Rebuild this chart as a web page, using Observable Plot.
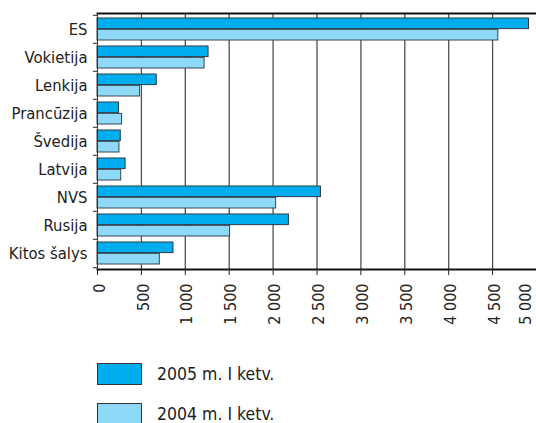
<!DOCTYPE html>
<html>
<head>
<meta charset="utf-8">
<script src="https://cdn.jsdelivr.net/npm/d3@7"></script>
<script src="https://cdn.jsdelivr.net/npm/@observablehq/plot@0.6"></script>
<style>
  html, body { margin: 0; padding: 0; background: #fff; }
  body { width: 536px; height: 423px; overflow: hidden; font-family: "Liberation Sans Narrow", "DejaVu Sans Condensed", "Roboto Condensed", "Arial Narrow", sans-serif; color: #222; }
  #legend { margin-top: 22px; margin-left: 97px; }
  .item { display: flex; align-items: center; height: 23px; margin-bottom: 17px; }
  .sw { width: 43px; height: 20px; border: 1.5px solid #333; box-sizing: content-box; }
  .lab { margin-left: 15px; font-size: 17.5px; }
</style>
</head>
<body>
<div id="chart"></div>
<div id="legend"></div>
<script>
const countries = ["ES", "Vokietija", "Lenkija", "Prancūzija", "Švedija", "Latvija", "NVS", "Rusija", "Kitos šalys"];
const values2005 = [4915, 1265, 675, 245, 265, 320, 2545, 2180, 865];
const values2004 = [4565, 1220, 485, 280, 250, 270, 2035, 1510, 710];
const seriesLabels = ["2005 m. I ketv.", "2004 m. I ketv."];
const seriesColors = ["#00aeef", "#8ed8f8"];
const xTicks = [0, 500, 1000, 1500, 2000, 2500, 3000, 3500, 4000, 4500, 5000];

const W = 536, H = 340, mTop = 13, mBottom = 71;
const padIn = 0.2, padOut = 0.1;
const step = (H - mTop - mBottom) / (countries.length - padIn + 2 * padOut);
const bw = step * (1 - padIn);
const fmt = d => d3.format(",")(d).replace(/,/g, " ");
const font = '"Liberation Sans Narrow", "DejaVu Sans Condensed", "Roboto Condensed", "Arial Narrow", sans-serif';

const chart = Plot.plot({
  width: W, height: H,
  marginTop: mTop, marginBottom: mBottom, marginLeft: 97, marginRight: 0,
  style: { fontFamily: font, fontSize: "16px", color: "#222", background: "white" },
  x: { domain: [0, 5000] },
  y: { domain: countries, paddingInner: padIn, paddingOuter: padOut },
  marks: [
    Plot.ruleX(xTicks.slice(1, -1), { stroke: "#505050", strokeWidth: 1.3 }),
    Plot.barX(countries, { y: d => d, x: (d, i) => values2005[i], fill: seriesColors[0], stroke: "#2b3a44", strokeWidth: 1, insetBottom: bw / 2 }),
    Plot.barX(countries, { y: d => d, x: (d, i) => values2004[i], fill: seriesColors[1], stroke: "#3a4650", strokeWidth: 1, insetTop: bw / 2 }),
    Plot.frame({ anchor: "top", stroke: "#111", strokeWidth: 2 }),
    Plot.frame({ anchor: "bottom", stroke: "#111", strokeWidth: 2 }),
    Plot.frame({ anchor: "left", stroke: "#333", strokeWidth: 1 }),
    Plot.axisX({ ticks: xTicks.slice(0, -1), tickSize: 6, text: null, stroke: "#222" }),
    Plot.axisX({ ticks: xTicks.slice(0, -1), tickSize: 6, tickPadding: 8, tickRotate: -90, tickFormat: fmt, fontSize: 16, dx: 2, label: null, stroke: "none" }),
    Plot.axisX({ ticks: xTicks.slice(-1), tickSize: 6, tickPadding: 8, tickRotate: -90, tickFormat: fmt, fontSize: 16, dx: -11, label: null, stroke: "none" }),
    Plot.axisY({ tickSize: 0, tickPadding: 10, fontSize: 16.5, label: null }),
    Plot.axisY({ ticks: countries, text: null, tickSize: 4, dy: -step / 2, stroke: "#222" }),
    Plot.axisY({ ticks: countries.slice(-1), text: null, tickSize: 4, dy: step / 2, stroke: "#222" })
  ]
});
document.getElementById("chart").appendChild(chart);

const legend = document.getElementById("legend");
seriesLabels.forEach((s, i) => {
  const it = document.createElement("div");
  it.className = "item";
  it.innerHTML = `<div class="sw" style="background:${seriesColors[i]}"></div><span class="lab">${s}</span>`;
  legend.appendChild(it);
});
</script>
</body>
</html>
